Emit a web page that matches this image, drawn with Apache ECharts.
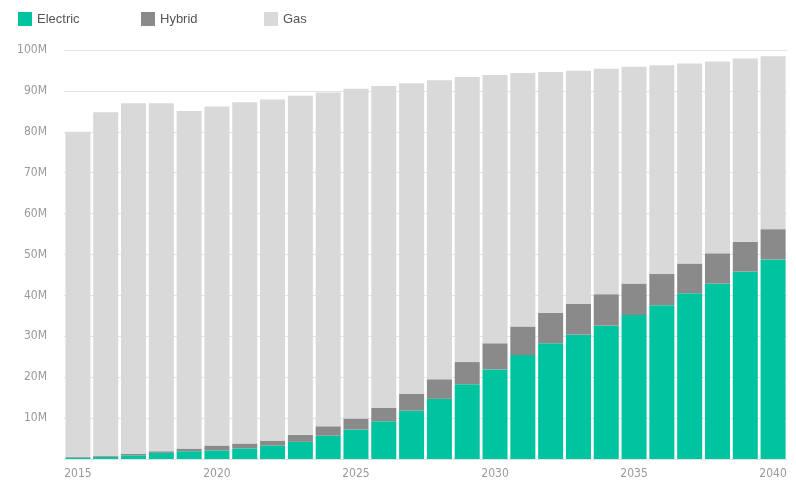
<!DOCTYPE html>
<html>
<head>
<meta charset="utf-8">
<script src="https://cdn.jsdelivr.net/npm/echarts@6/dist/echarts.min.js"></script>
<style>
html,body{margin:0;padding:0;background:#fff;}
#main{width:796px;height:481px;}
</style>
</head>
<body>
<div id="main"></div>
<script>
const years = ['2015','2016','2017','2018','2019','2020','2021','2022','2023','2024','2025','2026','2027','2028','2029','2030','2031','2032','2033','2034','2035','2036','2037','2038','2039','2040'];
const electric = [0.35,0.55,0.9,1.5,1.9,2.1,2.6,3.3,4.2,5.7,7.2,9.2,11.8,14.7,18.3,21.9,25.4,28.3,30.4,32.6,35.2,37.6,40.5,42.9,45.8,48.8];
const hybrid = [0.21,0.25,0.4,0.4,0.65,1.2,1.2,1.2,1.7,2.3,2.7,3.3,4.1,4.8,5.4,6.4,7.0,7.4,7.5,7.7,7.7,7.7,7.3,7.4,7.3,7.4];
const gas = [79.44,84.0,85.7,85.1,82.55,82.9,83.4,83.4,82.9,81.6,80.6,78.7,76.0,73.1,69.7,65.6,62.0,58.9,57.0,55.1,53.0,51.0,48.9,46.9,44.8,42.3];
const xTickLabels = ['2015','2020','2025','2030','2035','2040'];

const colors = {Electric:'#00c49f', Hybrid:'#8a8a8a', Gas:'#d9d9d9'};
const axisFont = '"DejaVu Sans Condensed","Liberation Sans Narrow",sans-serif';

const chart = echarts.init(document.getElementById('main'));
function mkLegend(name, left){
  return {
    data:[name], left:left, top:12, padding:0, itemWidth:14, itemHeight:14, itemGap:5,
    icon:'rect',
    textStyle:{color:'#555', fontSize:13, fontFamily:'"Liberation Sans",Arial,sans-serif'},
    selectedMode:false
  };
}
chart.setOption({
  animation:false,
  legend:[mkLegend('Electric',18), mkLegend('Hybrid',141), mkLegend('Gas',264)],
  grid:{left:64, right:9, top:50, bottom:22, containLabel:false},
  xAxis:{
    type:'category', data:years,
    axisLine:{show:false}, axisTick:{show:false},
    axisLabel:{
      color:'#999', fontSize:12, fontFamily:axisFont, margin:9,
      interval:0,
      formatter:function(v){ return xTickLabels.indexOf(v) >= 0 ? v : ''; }
    }
  },
  yAxis:{
    type:'value', min:0, max:100, interval:10,
    axisLine:{show:false}, axisTick:{show:false},
    splitLine:{lineStyle:{color:'#e3e3e3', width:1}},
    axisLabel:{
      color:'#999', fontSize:12, fontFamily:axisFont, margin:17,
      formatter:function(v){ return v === 0 ? '' : v + 'M'; }
    }
  },
  series:[
    {name:'Electric', type:'bar', stack:'total', data:electric, itemStyle:{color:colors.Electric}, barCategoryGap:'10%'},
    {name:'Hybrid', type:'bar', stack:'total', data:hybrid, itemStyle:{color:colors.Hybrid}, barCategoryGap:'10%'},
    {name:'Gas', type:'bar', stack:'total', data:gas, itemStyle:{color:colors.Gas}, barCategoryGap:'10%'}
  ]
});
</script>
</body>
</html>
